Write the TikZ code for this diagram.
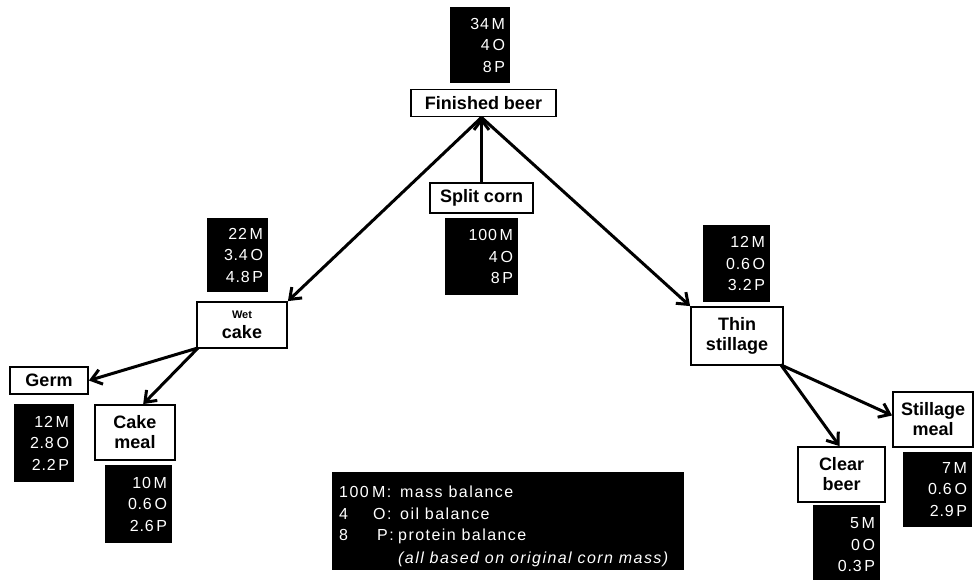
\documentclass[tikz,border=0pt]{standalone}
\usepackage{fontspec}
\setmainfont{Liberation Sans}
\newfontfamily\numfont[LetterSpace=5]{Liberation Sans}
\newfontfamily\legfont[LetterSpace=9]{Liberation Sans}
\usetikzlibrary{arrows.meta,calc}
\begin{document}
\begin{tikzpicture}[x=1pt,y=-1pt,
  blk/.style={fill=black,text=white,draw=none,rectangle,inner xsep=5pt,inner ysep=0pt,align=right,font=\numfont\fontsize{16}{21.5}\selectfont},
  wbox/.style={draw=black,line width=1.8pt,fill=white,rectangle,inner sep=0pt,align=center,font=\bfseries\fontsize{18}{20}\selectfont},
  arr/.style={line width=3pt,-{Straight Barb[length=10pt,width=15pt,line width=3pt]}}]
\useasboundingbox (0,0) rectangle (976,580);
\fill[white] (0,0) rectangle (976,580);

% nodes
\node[wbox,minimum width=145,minimum height=27] (fb) at (483.5,103) {Finished beer};
\node[blk,minimum width=60,minimum height=76,text width=50] (bfb) at (480,45) {34\,M\\4\,O\\8\,P};
\node[wbox,minimum width=103,minimum height=30] (sc) at (481.5,198) {Split corn};
\node[blk,minimum width=73,minimum height=77,text width=63] (bsc) at (481.5,256.5) {100\,M\\4\,O\\8\,P};

\node[blk,minimum width=61,minimum height=74,text width=51] (bwc) at (237.5,255) {22\,M\\3.4\,O\\4.8\,P};
\node[wbox,minimum width=90,minimum height=46] (wc) at (242,325) {{\fontsize{11}{14}\selectfont Wet}\\cake};

\node[blk,minimum width=67,minimum height=77,text width=57] (bts) at (736.5,263.5) {12\,M\\0.6\,O\\3.2\,P};
\node[wbox,minimum width=92,minimum height=58] (ts) at (737,336) {Thin\\stillage};

\node[wbox,minimum width=78,minimum height=27] (germ) at (49,380.5) {Germ};
\node[blk,minimum width=58,minimum height=78,text width=50] (bg) at (44,443) {12\,M\\2.8\,O\\2.2\,P};

\node[wbox,minimum width=80,minimum height=55] (cm) at (135,432.5) {Cake\\meal};
\node[blk,minimum width=67,minimum height=78,text width=57] (bcm) at (138.5,504) {10\,M\\0.6\,O\\2.6\,P};

\node[wbox,minimum width=87,minimum height=55] (cb) at (841.5,474.5) {Clear\\beer};
\node[blk,minimum width=67,minimum height=80,text width=57] (bcb) at (846.5,545) {5\,M\\0\,O\\0.3\,P\\[-6pt]};

\node[wbox,minimum width=80,minimum height=55] (sm) at (933,419.5) {Stillage\\meal};
\node[blk,minimum width=69,minimum height=75,text width=59] (bsm) at (937.5,489.5) {7\,M\\0.6\,O\\2.9\,P};

% legend
\node[fill=black,minimum width=352,minimum height=98,inner sep=0pt] (leg) at (508,521) {};
\begin{scope}[every node/.style={text=white,anchor=base west,inner sep=0pt,font=\legfont\fontsize{16}{21}\selectfont}]
\node (l1a) at (339,497) {100};
\node (l1b) at (372,497) {M:};
\node (l1c) at (400,497) {mass balance};
\node (l2a) at (339,519) {4};
\node (l2b) at (373,519) {O:};
\node (l2c) at (400,519) {oil balance};
\node (l3a) at (339,540) {8};
\node (l3b) at (377,540) {P:};
\node (l3c) at (398,540) {protein balance};
\node (l4) at (398,563) {\itshape (all based on original corn mass)};
\end{scope}

% connectors
\coordinate (top) at (sc.north |- fb.south);
\draw[arr] (sc.north) -- (top);
\draw[arr] (top) -- (wc.north east);
\draw[arr] (top) -- (ts.north west);
\coordinate (wco) at ($(wc.south west)+(2,-1)$);
\draw[arr] (wco) -- (germ.east);
\draw[arr] (wco) -- ($(cm.north)!0.2!(cm.north east)$);
\coordinate (tso) at ($(ts.south east)+(-3,-1)$);
\draw[arr] (tso) -- ($(cb.north)+(-2,0)$);
\draw[arr] (tso) -- ($(sm.west)+(0,-4)$);
\end{tikzpicture}
\end{document}
